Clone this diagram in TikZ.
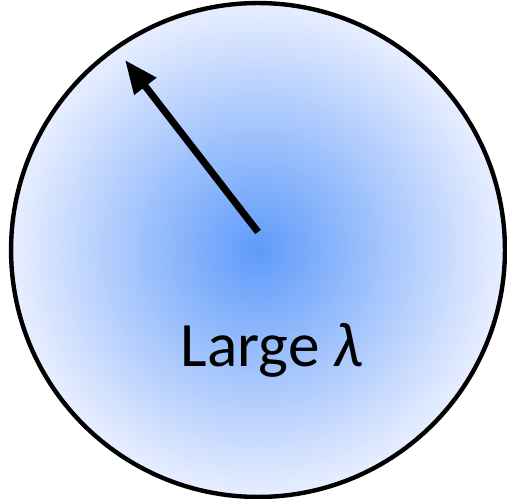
\documentclass[tikz,border=0pt]{standalone}
\usepackage{fontspec}
\setmainfont{Carlito}
\usetikzlibrary{positioning,arrows.meta}

\definecolor{diskcore}{RGB}{95,155,250}
\definecolor{diskrim}{RGB}{232,238,255}

\begin{document}
\begin{tikzpicture}[
x=0.02cm,y=-0.02cm,
disk/.style={
draw,
circle,
line width=2.5pt,
minimum size=9.88cm,
inner sep=0pt,
inner color=diskcore,
outer color=diskrim
},
label/.style={
font=\fontsize{36}{42}\selectfont,
inner sep=0pt
},
>={Triangle[length=19pt,width=15pt]}
]

\useasboundingbox (0,0) rectangle (507,499);

\node (ball) [disk] at (258,250) {};

\node (name) [label] at (272,350) {Large {\itshape λ}};

\coordinate (tail) at (258,232);
\coordinate (tip) at (125,60);

\draw[->,line width=4pt] (tail)--(tip);

\end{tikzpicture}
\end{document}
